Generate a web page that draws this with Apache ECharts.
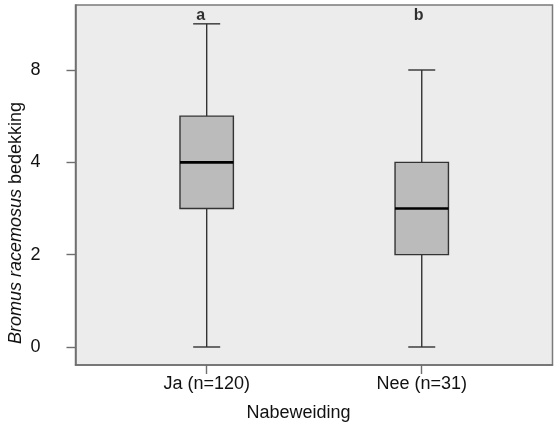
<!DOCTYPE html>
<html>
<head>
<meta charset="utf-8">
<script src="https://cdn.jsdelivr.net/npm/echarts@6/dist/echarts.min.js"></script>
<style>
  html, body { margin: 0; padding: 0; background: #fff; }
  #chart { width: 555px; height: 429px; }
</style>
</head>
<body>
<div id="chart"></div>
<script>
// categories + box statistics
var categories = ['Ja (n=120)', 'Nee (n=31)'];
var whiskerLow = [0, 0];
var q1 = [3, 2];
var median = [4, 3];
var q3 = [5, 4];
var whiskerHigh = [7, 6];
// significance letters above each box
var letters = ['a', 'b'];
var letterLevel = 7.17;
// y ticks: positions and the labels printed at them
var yTickValues = [0, 2, 4, 6];
var yTickLabels = ['0', '2', '4', '8'];

var FONT = 'Liberation Sans, Arial, sans-serif';
var letterShift = [-6, -3]; // px, letters sit a bit left of the box centre

var boxData = categories.map(function (c, i) {
  return [i + 1, whiskerLow[i], q1[i], median[i], q3[i], whiskerHigh[i]];
});
var letterData = letters.map(function (l, i) {
  return { value: [i + 1, letterLevel, l], label: { offset: [letterShift[i], 0] } };
});

function renderBox(params, api) {
  var x = api.value(0);
  var pLow = api.coord([x, api.value(1)]);
  var pQ1 = api.coord([x, api.value(2)]);
  var pMed = api.coord([x, api.value(3)]);
  var pQ3 = api.coord([x, api.value(4)]);
  var pHigh = api.coord([x, api.value(5)]);
  var cx = pMed[0];
  var halfBox = 26.7, halfCap = 13.5;
  var lineStyle = { stroke: '#333', lineWidth: 1.4 };
  return {
    type: 'group',
    children: [
      { type: 'line', shape: { x1: cx, y1: pHigh[1], x2: cx, y2: pQ3[1] }, style: lineStyle },
      { type: 'line', shape: { x1: cx, y1: pQ1[1], x2: cx, y2: pLow[1] }, style: lineStyle },
      { type: 'line', shape: { x1: cx - halfCap, y1: pHigh[1], x2: cx + halfCap, y2: pHigh[1] }, style: lineStyle },
      { type: 'line', shape: { x1: cx - halfCap, y1: pLow[1], x2: cx + halfCap, y2: pLow[1] }, style: lineStyle },
      { type: 'rect', shape: { x: cx - halfBox, y: pQ3[1], width: halfBox * 2, height: pQ1[1] - pQ3[1] },
        style: { fill: '#bbbbbb', stroke: '#333', lineWidth: 1.4 } },
      { type: 'line', shape: { x1: cx - halfBox, y1: pMed[1], x2: cx + halfBox, y2: pMed[1] },
        style: { stroke: '#000', lineWidth: 2.6 } }
    ]
  };
}

var myChart = echarts.init(document.getElementById('chart'), null, { renderer: 'canvas' });

var axisColor = '#6e6e6e';

var option = {
  animation: false,
  grid: {
    left: 75.5, top: 5, width: 477, height: 360,
    show: true,
    backgroundColor: '#ececec',
    borderColor: '#7a7a7a',
    borderWidth: 1.5
  },
  xAxis: {
    type: 'value',
    position: 'bottom',
    min: 0.39,
    max: 2.608,
    axisLine: { show: true, onZero: false, lineStyle: { color: axisColor, width: 1.5 } },
    splitLine: { show: false },
    axisTick: { show: true, inside: false, length: 9, customValues: [1, 2], lineStyle: { color: axisColor, width: 1.4 } },
    axisLabel: {
      customValues: [1, 2],
      margin: 10,
      fontSize: 18,
      fontFamily: FONT,
      color: '#111',
      formatter: function (v) { return categories[Math.round(v) - 1]; }
    }
  },
  yAxis: {
    type: 'value',
    min: -0.39,
    max: 7.408,
    axisLine: { show: true, onZero: false, lineStyle: { color: axisColor, width: 1.5 } },
    splitLine: { show: false },
    axisTick: { show: true, inside: false, length: 9, customValues: yTickValues, lineStyle: { color: axisColor, width: 1.4 } },
    axisLabel: {
      customValues: yTickValues,
      margin: 35,
      fontSize: 18,
      fontFamily: FONT,
      color: '#111',
      formatter: function (v) { return yTickLabels[yTickValues.indexOf(Math.round(v))]; }
    }
  },
  graphic: [
    {
      type: 'text',
      x: 16, y: 223,
      rotation: Math.PI / 2,
      style: {
        text: '{i|Bromus racemosus} bedekking',
        fontSize: 18,
        fontFamily: FONT,
        fill: '#111',
        align: 'center',
        verticalAlign: 'middle',
        rich: { i: { fontStyle: 'italic', fontSize: 18, fontFamily: FONT, fill: '#111' } }
      }
    },
    {
      type: 'text',
      x: 298.5, y: 413,
      style: {
        text: 'Nabeweiding',
        fontSize: 18,
        fontFamily: FONT,
        fill: '#111',
        align: 'center',
        verticalAlign: 'middle'
      }
    }
  ],
  series: [
    {
      type: 'custom',
      renderItem: renderBox,
      encode: { x: 0, y: [1, 2, 3, 4, 5] },
      data: boxData
    },
    {
      type: 'scatter',
      symbolSize: 0,
      data: letterData,
      label: {
        show: true,
        position: 'inside',
        fontSize: 16,
        fontWeight: 'bold',
        fontFamily: FONT,
        color: '#000',
        formatter: function (p) { return p.value[2]; }
      }
    }
  ]
};
myChart.setOption(option);
</script>
</body>
</html>
